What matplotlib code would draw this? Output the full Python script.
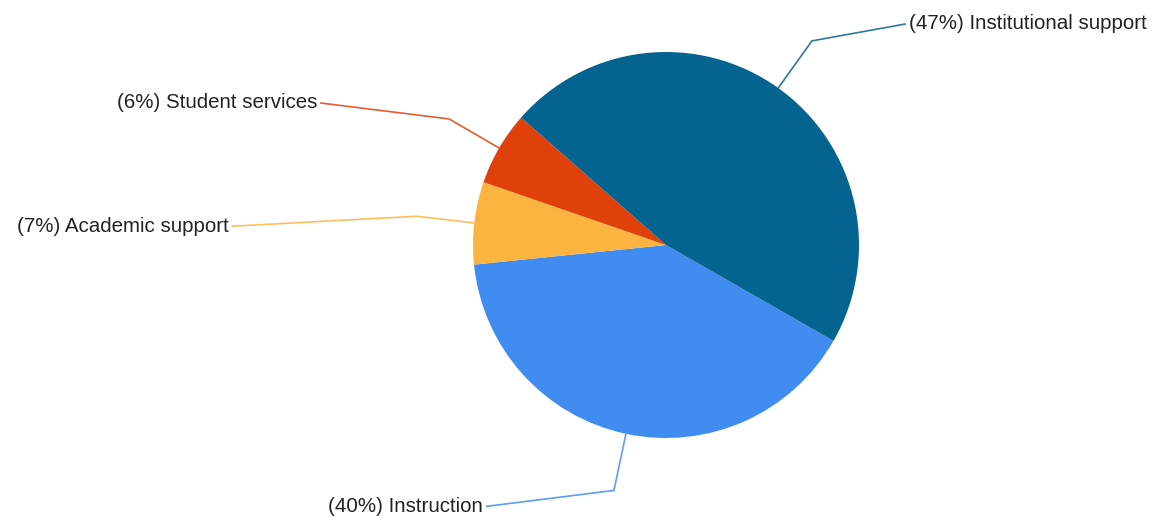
import numpy as np
import matplotlib
matplotlib.use("Agg")
import matplotlib.pyplot as plt

categories = ["Instruction", "Academic support", "Student services", "Institutional support"]
values = [40.1, 6.9, 6.2, 46.8]
colors = ["#418CF0", "#FCB441", "#E0400A", "#05638F"]

W, H = 1154, 517
fig = plt.figure(figsize=(W / 100, H / 100), dpi=100)
ax = fig.add_axes([0, 0, 1, 1])
cx, cy, R = 666, H - 245, 193
start = -29.8

wedges, _ = ax.pie(values, colors=colors, startangle=start, counterclock=False,
                   center=(cx, cy), radius=R, wedgeprops=dict(linewidth=0))
ax.set_xlim(0, W)
ax.set_ylim(0, H)
ax.set_aspect("equal")
ax.axis("off")

total = sum(values)
# label end offsets relative to elbow (pixels, x right, y up) and alignment
label_offsets = {
    "Institutional support": (94, 17, "left"),
    "Student services": (-129, 16, "right"),
    "Academic support": (-185, -10, "right"),
    "Instruction": (-128, -16, "right"),
}
for w, cat, v, col in zip(wedges, categories, values, colors):
    mid = np.deg2rad((w.theta1 + w.theta2) / 2)
    x0, y0 = cx + R * np.cos(mid), cy + R * np.sin(mid)
    x1, y1 = cx + 1.30 * R * np.cos(mid), cy + 1.30 * R * np.sin(mid)
    dx, dy, ha = label_offsets[cat]
    x2, y2 = x1 + dx, y1 + dy
    ax.plot([x0, x1, x2], [y0, y1, y2], color=col, lw=1.2, alpha=0.85,
            solid_capstyle="butt")
    pct = round(v / total * 100)
    tx = x2 + (3 if ha == "left" else -3)
    ax.text(tx, y2, f"({pct}%) {cat}", ha=ha, va="center", fontsize=14.8,
            family="Liberation Sans", color="#222222")

fig.savefig("out.png", dpi=100)
